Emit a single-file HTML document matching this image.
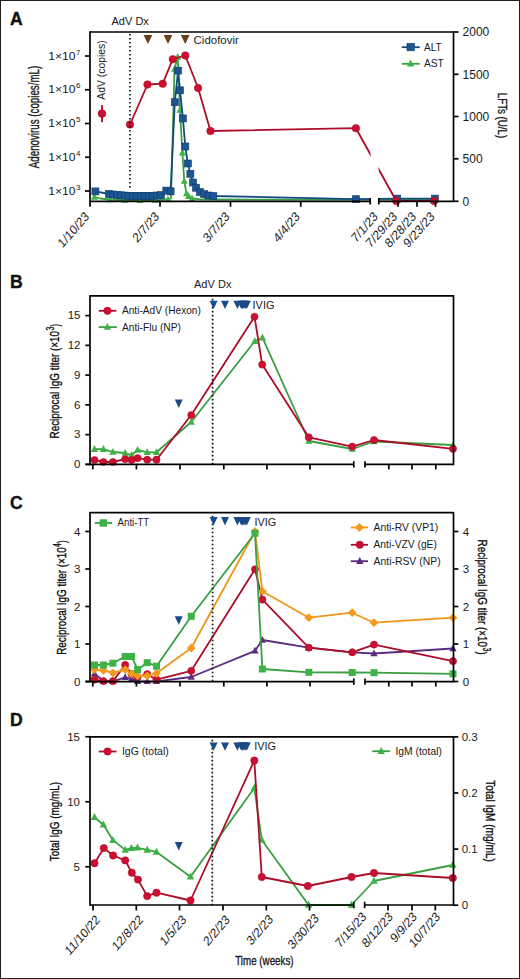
<!DOCTYPE html>
<html><head><meta charset="utf-8"><style>
html,body{margin:0;padding:0;background:#fff;overflow:hidden;}
svg{display:block;}
text{font-family:"Liberation Sans", sans-serif;}
</style></head><body>
<svg width="520" height="979" viewBox="0 0 520 979" font-family='"Liberation Sans", sans-serif'>
<rect x="0" y="0" width="520" height="979" fill="#fff"/>
<text x="9.9" y="24.6" font-size="17.6" text-anchor="start" font-weight="bold" fill="#111" stroke="#111" stroke-width="0.35">A</text>
<text x="9.9" y="288" font-size="17.6" text-anchor="start" font-weight="bold" fill="#111" stroke="#111" stroke-width="0.35">B</text>
<text x="9.9" y="508.5" font-size="17.6" text-anchor="start" font-weight="bold" fill="#111" stroke="#111" stroke-width="0.35">C</text>
<text x="9.9" y="725.8" font-size="17.6" text-anchor="start" font-weight="bold" fill="#111" stroke="#111" stroke-width="0.35">D</text>
<polyline points="94.5,197 100,198.5 110,199.5 120,200 130,200.3 140,200.3 150,200.2 160,200 168,199.5 171,198.5 174.5,69 177.7,57 180,110 182.4,152.8 184.3,181.2 186.5,193.7 188.7,196.3 192,198.5 200,199.3 216,199.5 355.9,199.6 397.2,199.6 435,199.6" fill="none" stroke="#3a9e42" stroke-width="1.8" stroke-linejoin="round"/>
<polygon points="94.5,193.01 98.0,199.66 91.0,199.66" fill="#3db246"/>
<polygon points="110,195.51 113.5,202.16 106.5,202.16" fill="#3db246"/>
<polygon points="125,196.01 128.5,202.66 121.5,202.66" fill="#3db246"/>
<polygon points="140,196.31 143.5,202.96 136.5,202.96" fill="#3db246"/>
<polygon points="155,196.01 158.5,202.66 151.5,202.66" fill="#3db246"/>
<polygon points="168,195.51 171.5,202.16 164.5,202.16" fill="#3db246"/>
<polygon points="174.5,65.01 178.0,71.66 171.0,71.66" fill="#3db246"/>
<polygon points="177.7,53.01 181.2,59.66 174.2,59.66" fill="#3db246"/>
<polygon points="180,106.01 183.5,112.66 176.5,112.66" fill="#3db246"/>
<polygon points="182.4,148.81 185.9,155.46 178.9,155.46" fill="#3db246"/>
<polygon points="184.3,177.20999999999998 187.8,183.85999999999999 180.8,183.85999999999999" fill="#3db246"/>
<polygon points="186.5,189.70999999999998 190.0,196.35999999999999 183.0,196.35999999999999" fill="#3db246"/>
<polygon points="188.7,192.31 192.2,198.96 185.2,198.96" fill="#3db246"/>
<polygon points="192,194.51 195.5,201.16 188.5,201.16" fill="#3db246"/>
<polygon points="355.9,195.60999999999999 359.4,202.26 352.4,202.26" fill="#3db246"/>
<polygon points="397.2,195.60999999999999 400.7,202.26 393.7,202.26" fill="#3db246"/>
<polygon points="435,195.60999999999999 438.5,202.26 431.5,202.26" fill="#3db246"/>
<polyline points="95.4,191.4 109,194 113,194.5 117,195 121,195.3 125,195.6 129,195.8 133,196 137,196 141,196 145,196 149,196 153,195.8 157,195.5 161,195.2 166.3,190.6 170.6,191.4 174.8,102.2 178.1,70.6 180,90.3 182.9,118.4 185.3,146.5 187.8,163.5 190.4,173.8 193,182.5 196,187.7 199.9,192 204.2,194.2 208.5,195.5 213.3,196 355.9,199.2 397.2,198.6 435,198.6" fill="none" stroke="#174a80" stroke-width="1.8" stroke-linejoin="round"/>
<rect x="91.9" y="187.9" width="7" height="7" fill="#1c5591" stroke="#0f3a6a" stroke-width="0.6"/>
<rect x="105.5" y="190.5" width="7" height="7" fill="#1c5591" stroke="#0f3a6a" stroke-width="0.6"/>
<rect x="109.5" y="191.0" width="7" height="7" fill="#1c5591" stroke="#0f3a6a" stroke-width="0.6"/>
<rect x="113.5" y="191.5" width="7" height="7" fill="#1c5591" stroke="#0f3a6a" stroke-width="0.6"/>
<rect x="117.5" y="191.8" width="7" height="7" fill="#1c5591" stroke="#0f3a6a" stroke-width="0.6"/>
<rect x="121.5" y="192.1" width="7" height="7" fill="#1c5591" stroke="#0f3a6a" stroke-width="0.6"/>
<rect x="125.5" y="192.3" width="7" height="7" fill="#1c5591" stroke="#0f3a6a" stroke-width="0.6"/>
<rect x="129.5" y="192.5" width="7" height="7" fill="#1c5591" stroke="#0f3a6a" stroke-width="0.6"/>
<rect x="133.5" y="192.5" width="7" height="7" fill="#1c5591" stroke="#0f3a6a" stroke-width="0.6"/>
<rect x="137.5" y="192.5" width="7" height="7" fill="#1c5591" stroke="#0f3a6a" stroke-width="0.6"/>
<rect x="141.5" y="192.5" width="7" height="7" fill="#1c5591" stroke="#0f3a6a" stroke-width="0.6"/>
<rect x="145.5" y="192.5" width="7" height="7" fill="#1c5591" stroke="#0f3a6a" stroke-width="0.6"/>
<rect x="149.5" y="192.3" width="7" height="7" fill="#1c5591" stroke="#0f3a6a" stroke-width="0.6"/>
<rect x="153.5" y="192.0" width="7" height="7" fill="#1c5591" stroke="#0f3a6a" stroke-width="0.6"/>
<rect x="157.5" y="191.7" width="7" height="7" fill="#1c5591" stroke="#0f3a6a" stroke-width="0.6"/>
<rect x="162.8" y="187.1" width="7" height="7" fill="#1c5591" stroke="#0f3a6a" stroke-width="0.6"/>
<rect x="167.1" y="187.9" width="7" height="7" fill="#1c5591" stroke="#0f3a6a" stroke-width="0.6"/>
<rect x="171.3" y="98.7" width="7" height="7" fill="#1c5591" stroke="#0f3a6a" stroke-width="0.6"/>
<rect x="174.6" y="67.1" width="7" height="7" fill="#1c5591" stroke="#0f3a6a" stroke-width="0.6"/>
<rect x="176.5" y="86.8" width="7" height="7" fill="#1c5591" stroke="#0f3a6a" stroke-width="0.6"/>
<rect x="179.4" y="114.9" width="7" height="7" fill="#1c5591" stroke="#0f3a6a" stroke-width="0.6"/>
<rect x="181.8" y="143.0" width="7" height="7" fill="#1c5591" stroke="#0f3a6a" stroke-width="0.6"/>
<rect x="184.3" y="160.0" width="7" height="7" fill="#1c5591" stroke="#0f3a6a" stroke-width="0.6"/>
<rect x="186.9" y="170.3" width="7" height="7" fill="#1c5591" stroke="#0f3a6a" stroke-width="0.6"/>
<rect x="189.5" y="179.0" width="7" height="7" fill="#1c5591" stroke="#0f3a6a" stroke-width="0.6"/>
<rect x="192.5" y="184.2" width="7" height="7" fill="#1c5591" stroke="#0f3a6a" stroke-width="0.6"/>
<rect x="196.4" y="188.5" width="7" height="7" fill="#1c5591" stroke="#0f3a6a" stroke-width="0.6"/>
<rect x="200.7" y="190.7" width="7" height="7" fill="#1c5591" stroke="#0f3a6a" stroke-width="0.6"/>
<rect x="205.0" y="192.0" width="7" height="7" fill="#1c5591" stroke="#0f3a6a" stroke-width="0.6"/>
<rect x="209.8" y="192.5" width="7" height="7" fill="#1c5591" stroke="#0f3a6a" stroke-width="0.6"/>
<rect x="352.4" y="195.7" width="7" height="7" fill="#1c5591" stroke="#0f3a6a" stroke-width="0.6"/>
<rect x="393.7" y="195.1" width="7" height="7" fill="#1c5591" stroke="#0f3a6a" stroke-width="0.6"/>
<rect x="431.5" y="195.1" width="7" height="7" fill="#1c5591" stroke="#0f3a6a" stroke-width="0.6"/>
<polyline points="130,124.5 147.5,84.5 162.7,83.7 172.8,59.2 185.3,55.5 198.1,88 210.5,131 355.9,128.2 396.3,201 434,201" fill="none" stroke="#ad0d28" stroke-width="1.8" stroke-linejoin="round"/>
<circle cx="130" cy="124.5" r="3.8" fill="#cc0f2e" stroke="#a80c27" stroke-width="0.5"/>
<circle cx="147.5" cy="84.5" r="3.8" fill="#cc0f2e" stroke="#a80c27" stroke-width="0.5"/>
<circle cx="162.7" cy="83.7" r="3.8" fill="#cc0f2e" stroke="#a80c27" stroke-width="0.5"/>
<circle cx="172.8" cy="59.2" r="3.8" fill="#cc0f2e" stroke="#a80c27" stroke-width="0.5"/>
<circle cx="185.3" cy="55.5" r="3.8" fill="#cc0f2e" stroke="#a80c27" stroke-width="0.5"/>
<circle cx="198.1" cy="88" r="3.8" fill="#cc0f2e" stroke="#a80c27" stroke-width="0.5"/>
<circle cx="210.5" cy="131" r="3.8" fill="#cc0f2e" stroke="#a80c27" stroke-width="0.5"/>
<circle cx="355.9" cy="128.2" r="3.8" fill="#cc0f2e" stroke="#a80c27" stroke-width="0.5"/>
<circle cx="396.3" cy="201" r="3.8" fill="#cc0f2e" stroke="#a80c27" stroke-width="0.5"/>
<circle cx="434" cy="201" r="3.8" fill="#cc0f2e" stroke="#a80c27" stroke-width="0.5"/>
<rect x="370.6" y="34" width="8" height="175.3" fill="#fff"/>
<line x1="130" y1="34" x2="130" y2="190" stroke="#111" stroke-width="1.7" stroke-dasharray="1.6 2.4"/>
<line x1="90" y1="32" x2="453.5" y2="32" stroke="#000" stroke-width="1.7" />
<line x1="90" y1="31.25" x2="90" y2="202.05" stroke="#000" stroke-width="1.7" />
<line x1="453.5" y1="31.25" x2="453.5" y2="202.05" stroke="#000" stroke-width="1.7" />
<line x1="90" y1="201.3" x2="370.2" y2="201.3" stroke="#000" stroke-width="1.7" />
<line x1="378.8" y1="201.3" x2="453.5" y2="201.3" stroke="#000" stroke-width="1.7" />
<line x1="90" y1="201.3" x2="90" y2="206.8" stroke="#000" stroke-width="1.7" />
<line x1="160" y1="201.3" x2="160" y2="206.8" stroke="#000" stroke-width="1.7" />
<line x1="230.5" y1="201.3" x2="230.5" y2="206.8" stroke="#000" stroke-width="1.7" />
<line x1="300.75" y1="201.3" x2="300.75" y2="206.8" stroke="#000" stroke-width="1.7" />
<line x1="398" y1="201.3" x2="398" y2="206.8" stroke="#000" stroke-width="1.7" />
<line x1="417" y1="201.3" x2="417" y2="206.8" stroke="#000" stroke-width="1.7" />
<line x1="435.5" y1="201.3" x2="435.5" y2="206.8" stroke="#000" stroke-width="1.7" />
<line x1="370.2" y1="198.10000000000002" x2="370.2" y2="204.5" stroke="#000" stroke-width="1.7" />
<line x1="378.8" y1="198.10000000000002" x2="378.8" y2="204.5" stroke="#000" stroke-width="1.7" />
<line x1="85" y1="191" x2="90" y2="191" stroke="#000" stroke-width="1.7" />
<text x="75.4" y="194.6" font-size="11.2" text-anchor="end" font-weight="normal" fill="#1a1a1a" textLength="27.2" lengthAdjust="spacingAndGlyphs" >1×10</text>
<text x="75.9" y="189.7" font-size="8" text-anchor="start" font-weight="normal" fill="#1a1a1a" >3</text>
<line x1="85" y1="157.25" x2="90" y2="157.25" stroke="#000" stroke-width="1.7" />
<text x="75.4" y="160.85" font-size="11.2" text-anchor="end" font-weight="normal" fill="#1a1a1a" textLength="27.2" lengthAdjust="spacingAndGlyphs" >1×10</text>
<text x="75.9" y="155.95" font-size="8" text-anchor="start" font-weight="normal" fill="#1a1a1a" >4</text>
<line x1="85" y1="123.5" x2="90" y2="123.5" stroke="#000" stroke-width="1.7" />
<text x="75.4" y="127.1" font-size="11.2" text-anchor="end" font-weight="normal" fill="#1a1a1a" textLength="27.2" lengthAdjust="spacingAndGlyphs" >1×10</text>
<text x="75.9" y="122.2" font-size="8" text-anchor="start" font-weight="normal" fill="#1a1a1a" >5</text>
<line x1="85" y1="89.75" x2="90" y2="89.75" stroke="#000" stroke-width="1.7" />
<text x="75.4" y="93.35" font-size="11.2" text-anchor="end" font-weight="normal" fill="#1a1a1a" textLength="27.2" lengthAdjust="spacingAndGlyphs" >1×10</text>
<text x="75.9" y="88.45" font-size="8" text-anchor="start" font-weight="normal" fill="#1a1a1a" >6</text>
<line x1="85" y1="56" x2="90" y2="56" stroke="#000" stroke-width="1.7" />
<text x="75.4" y="59.6" font-size="11.2" text-anchor="end" font-weight="normal" fill="#1a1a1a" textLength="27.2" lengthAdjust="spacingAndGlyphs" >1×10</text>
<text x="75.9" y="54.7" font-size="8" text-anchor="start" font-weight="normal" fill="#1a1a1a" >7</text>
<line x1="453.5" y1="201.3" x2="458.5" y2="201.3" stroke="#000" stroke-width="1.7" />
<text x="462.6" y="205.60000000000002" font-size="12" text-anchor="start" font-weight="normal" fill="#1a1a1a" >0</text>
<line x1="453.5" y1="158.8" x2="458.5" y2="158.8" stroke="#000" stroke-width="1.7" />
<text x="462.6" y="163.10000000000002" font-size="12" text-anchor="start" font-weight="normal" fill="#1a1a1a" >500</text>
<line x1="453.5" y1="116.5" x2="458.5" y2="116.5" stroke="#000" stroke-width="1.7" />
<text x="462.6" y="120.8" font-size="12" text-anchor="start" font-weight="normal" fill="#1a1a1a" >1000</text>
<line x1="453.5" y1="74.3" x2="458.5" y2="74.3" stroke="#000" stroke-width="1.7" />
<text x="462.6" y="78.6" font-size="12" text-anchor="start" font-weight="normal" fill="#1a1a1a" >1500</text>
<line x1="453.5" y1="32" x2="458.5" y2="32" stroke="#000" stroke-width="1.7" />
<text x="462.6" y="36.3" font-size="12" text-anchor="start" font-weight="normal" fill="#1a1a1a" >2000</text>
<text transform="translate(497.8,115.5) rotate(90)" font-size="13" text-anchor="middle" font-weight="normal" fill="#1a1a1a" textLength="45.5" lengthAdjust="spacingAndGlyphs" stroke="#1a1a1a" stroke-width="0.35">LFTs (U/L)</text>
<text transform="translate(39.2,117) rotate(-90)" font-size="14" text-anchor="middle" font-weight="normal" fill="#1a1a1a" textLength="102.4" lengthAdjust="spacingAndGlyphs" stroke="#1a1a1a" stroke-width="0.35">Adenovirus (copies/mL)</text>
<text transform="translate(89.7,217.3) scale(0.87,1) rotate(-45)" font-size="13.2" text-anchor="end" font-weight="normal" fill="#1a1a1a" >1/10/23</text>
<text transform="translate(159.7,217.3) scale(0.87,1) rotate(-45)" font-size="13.2" text-anchor="end" font-weight="normal" fill="#1a1a1a" >2/7/23</text>
<text transform="translate(230.2,217.3) scale(0.87,1) rotate(-45)" font-size="13.2" text-anchor="end" font-weight="normal" fill="#1a1a1a" >3/7/23</text>
<text transform="translate(300.45,217.3) scale(0.87,1) rotate(-45)" font-size="13.2" text-anchor="end" font-weight="normal" fill="#1a1a1a" >4/4/23</text>
<text transform="translate(378.5,217.3) scale(0.87,1) rotate(-45)" font-size="13.2" text-anchor="end" font-weight="normal" fill="#1a1a1a" >7/1/23</text>
<text transform="translate(397.7,217.3) scale(0.87,1) rotate(-45)" font-size="13.2" text-anchor="end" font-weight="normal" fill="#1a1a1a" >7/29/23</text>
<text transform="translate(416.7,217.3) scale(0.87,1) rotate(-45)" font-size="13.2" text-anchor="end" font-weight="normal" fill="#1a1a1a" >8/28/23</text>
<text transform="translate(435.2,217.3) scale(0.87,1) rotate(-45)" font-size="13.2" text-anchor="end" font-weight="normal" fill="#1a1a1a" >9/23/23</text>
<line x1="102" y1="104.9" x2="102" y2="122.3" stroke="#ad0d28" stroke-width="1.8" />
<circle cx="102" cy="113.6" r="3.9" fill="#cc0f2e" stroke="#a80c27" stroke-width="0.5"/>
<text transform="translate(105.3,70) rotate(-90)" font-size="10.5" text-anchor="middle" font-weight="normal" fill="#1a1a1a" textLength="59.3" lengthAdjust="spacingAndGlyphs" >AdV (copies)</text>
<line x1="401.7" y1="47.2" x2="419.7" y2="47.2" stroke="#174a80" stroke-width="1.8" />
<rect x="407.0" y="43.4" width="7.4" height="7.4" fill="#1c5591" stroke="#0f3a6a" stroke-width="0.6"/>
<line x1="401.7" y1="63.8" x2="419.7" y2="63.8" stroke="#3a9e42" stroke-width="1.8" />
<polygon points="410.6,59.581999999999994 414.3,66.612 406.90000000000003,66.612" fill="#3db246"/>
<text x="424" y="50.7" font-size="10.8" text-anchor="start" font-weight="normal" fill="#1a1a1a" textLength="17.6" lengthAdjust="spacingAndGlyphs" >ALT</text>
<text x="424" y="67.1" font-size="10.8" text-anchor="start" font-weight="normal" fill="#1a1a1a" textLength="19.8" lengthAdjust="spacingAndGlyphs" >AST</text>
<text x="111.5" y="24.6" font-size="11.5" text-anchor="start" font-weight="normal" fill="#1a1a1a" textLength="37.4" lengthAdjust="spacingAndGlyphs" >AdV Dx</text>
<polygon points="143.5,34.9 152.3,34.9 147.9,44.1" fill="#66401a"/>
<polygon points="163.6,34.9 172.4,34.9 168,44.1" fill="#66401a"/>
<polygon points="180.79999999999998,34.9 189.6,34.9 185.2,44.1" fill="#66401a"/>
<text x="193.6" y="43.8" font-size="11" text-anchor="start" font-weight="normal" fill="#1a1a1a" textLength="45.2" lengthAdjust="spacingAndGlyphs" >Cidofovir</text>
<polyline points="94.5,449.2 103.4,449.2 112.9,452 125.2,453 131.6,455 137.6,450 147.2,452.3 156.5,452.3 191.25,422 254.8,341.3 262.4,337.7 308.8,441 352.2,449 374,441.5 453,445" fill="none" stroke="#3a9e42" stroke-width="1.8" stroke-linejoin="round"/>
<polygon points="94.5,445.096 98.1,451.936 90.9,451.936" fill="#3db246"/>
<polygon points="103.4,445.096 107.0,451.936 99.80000000000001,451.936" fill="#3db246"/>
<polygon points="112.9,447.896 116.5,454.736 109.30000000000001,454.736" fill="#3db246"/>
<polygon points="125.2,448.896 128.8,455.736 121.60000000000001,455.736" fill="#3db246"/>
<polygon points="131.6,450.896 135.2,457.736 128.0,457.736" fill="#3db246"/>
<polygon points="137.6,445.896 141.2,452.736 134.0,452.736" fill="#3db246"/>
<polygon points="147.2,448.196 150.79999999999998,455.036 143.6,455.036" fill="#3db246"/>
<polygon points="156.5,448.196 160.1,455.036 152.9,455.036" fill="#3db246"/>
<polygon points="191.25,417.896 194.85,424.736 187.65,424.736" fill="#3db246"/>
<polygon points="254.8,337.196 258.40000000000003,344.036 251.20000000000002,344.036" fill="#3db246"/>
<polygon points="262.4,333.596 266.0,340.436 258.79999999999995,340.436" fill="#3db246"/>
<polygon points="308.8,436.896 312.40000000000003,443.736 305.2,443.736" fill="#3db246"/>
<polygon points="352.2,444.896 355.8,451.736 348.59999999999997,451.736" fill="#3db246"/>
<polygon points="374,437.396 377.6,444.236 370.4,444.236" fill="#3db246"/>
<polygon points="453,440.896 456.6,447.736 449.4,447.736" fill="#3db246"/>
<polyline points="94.5,460 103.4,462 112.9,462 125.2,459.2 131.6,460 137.6,458.2 147.2,459.7 156.5,459.7 191.25,415 254.5,316.75 262.2,364.6 308.8,437.3 352.2,446.7 374,440 453,448.8" fill="none" stroke="#ad0d28" stroke-width="1.8" stroke-linejoin="round"/>
<circle cx="94.5" cy="460" r="3.6" fill="#cc0f2e" stroke="#a80c27" stroke-width="0.5"/>
<circle cx="103.4" cy="462" r="3.6" fill="#cc0f2e" stroke="#a80c27" stroke-width="0.5"/>
<circle cx="112.9" cy="462" r="3.6" fill="#cc0f2e" stroke="#a80c27" stroke-width="0.5"/>
<circle cx="125.2" cy="459.2" r="3.6" fill="#cc0f2e" stroke="#a80c27" stroke-width="0.5"/>
<circle cx="131.6" cy="460" r="3.6" fill="#cc0f2e" stroke="#a80c27" stroke-width="0.5"/>
<circle cx="137.6" cy="458.2" r="3.6" fill="#cc0f2e" stroke="#a80c27" stroke-width="0.5"/>
<circle cx="147.2" cy="459.7" r="3.6" fill="#cc0f2e" stroke="#a80c27" stroke-width="0.5"/>
<circle cx="156.5" cy="459.7" r="3.6" fill="#cc0f2e" stroke="#a80c27" stroke-width="0.5"/>
<circle cx="191.25" cy="415" r="3.6" fill="#cc0f2e" stroke="#a80c27" stroke-width="0.5"/>
<circle cx="254.5" cy="316.75" r="3.6" fill="#cc0f2e" stroke="#a80c27" stroke-width="0.5"/>
<circle cx="262.2" cy="364.6" r="3.6" fill="#cc0f2e" stroke="#a80c27" stroke-width="0.5"/>
<circle cx="308.8" cy="437.3" r="3.6" fill="#cc0f2e" stroke="#a80c27" stroke-width="0.5"/>
<circle cx="352.2" cy="446.7" r="3.6" fill="#cc0f2e" stroke="#a80c27" stroke-width="0.5"/>
<circle cx="374" cy="440" r="3.6" fill="#cc0f2e" stroke="#a80c27" stroke-width="0.5"/>
<circle cx="453" cy="448.8" r="3.6" fill="#cc0f2e" stroke="#a80c27" stroke-width="0.5"/>
<line x1="212.6" y1="298.8" x2="212.6" y2="464.4" stroke="#111" stroke-width="1.7" stroke-dasharray="1.6 2.4"/>
<line x1="90" y1="295.8" x2="453.5" y2="295.8" stroke="#000" stroke-width="1.7" />
<line x1="90" y1="295.05" x2="90" y2="465.15" stroke="#000" stroke-width="1.7" />
<line x1="453.5" y1="295.05" x2="453.5" y2="465.15" stroke="#000" stroke-width="1.7" />
<line x1="85.5" y1="464.4" x2="353.8" y2="464.4" stroke="#000" stroke-width="1.7" />
<line x1="365" y1="464.4" x2="453.5" y2="464.4" stroke="#000" stroke-width="1.7" />
<line x1="92.8" y1="464.4" x2="92.8" y2="469.4" stroke="#000" stroke-width="1.7" />
<line x1="136.4" y1="464.4" x2="136.4" y2="469.4" stroke="#000" stroke-width="1.7" />
<line x1="180" y1="464.4" x2="180" y2="469.4" stroke="#000" stroke-width="1.7" />
<line x1="223.8" y1="464.4" x2="223.8" y2="469.4" stroke="#000" stroke-width="1.7" />
<line x1="266.9" y1="464.4" x2="266.9" y2="469.4" stroke="#000" stroke-width="1.7" />
<line x1="310" y1="464.4" x2="310" y2="469.4" stroke="#000" stroke-width="1.7" />
<line x1="388.8" y1="464.4" x2="388.8" y2="469.4" stroke="#000" stroke-width="1.7" />
<line x1="412" y1="464.4" x2="412" y2="469.4" stroke="#000" stroke-width="1.7" />
<line x1="435.8" y1="464.4" x2="435.8" y2="469.4" stroke="#000" stroke-width="1.7" />
<line x1="353.8" y1="461.2" x2="353.8" y2="467.59999999999997" stroke="#000" stroke-width="1.7" />
<line x1="365" y1="461.2" x2="365" y2="467.59999999999997" stroke="#000" stroke-width="1.7" />
<line x1="85.3" y1="464.4" x2="90" y2="464.4" stroke="#000" stroke-width="1.7" />
<line x1="85.3" y1="434.64" x2="90" y2="434.64" stroke="#000" stroke-width="1.7" />
<line x1="85.3" y1="404.88" x2="90" y2="404.88" stroke="#000" stroke-width="1.7" />
<line x1="85.3" y1="375.12" x2="90" y2="375.12" stroke="#000" stroke-width="1.7" />
<line x1="85.3" y1="345.36" x2="90" y2="345.36" stroke="#000" stroke-width="1.7" />
<line x1="85.3" y1="315.59999999999997" x2="90" y2="315.59999999999997" stroke="#000" stroke-width="1.7" />
<text x="80.5" y="468.09999999999997" font-size="11.5" text-anchor="end" font-weight="normal" fill="#1a1a1a" >0</text>
<text x="80.5" y="438.34" font-size="11.5" text-anchor="end" font-weight="normal" fill="#1a1a1a" >3</text>
<text x="80.5" y="408.58" font-size="11.5" text-anchor="end" font-weight="normal" fill="#1a1a1a" >6</text>
<text x="80.5" y="378.82" font-size="11.5" text-anchor="end" font-weight="normal" fill="#1a1a1a" >9</text>
<text x="80.5" y="349.06" font-size="11.5" text-anchor="end" font-weight="normal" fill="#1a1a1a" >12</text>
<text x="80.5" y="319.29999999999995" font-size="11.5" text-anchor="end" font-weight="normal" fill="#1a1a1a" >15</text>
<g transform="translate(59,438.5) rotate(-90)" stroke="#1a1a1a" stroke-width="0.35">
<text x="0" y="0" font-size="13.4" textLength="107.6" lengthAdjust="spacingAndGlyphs">Reciprocal IgG titer (×10</text>
<text x="107.89999999999999" y="-5" font-size="10" textLength="3.8" lengthAdjust="spacingAndGlyphs">3</text>
<text x="111.89999999999999" y="0" font-size="13.4" textLength="2.6" lengthAdjust="spacingAndGlyphs">)</text>
</g>
<polygon points="209.6,300.7 217.6,300.7 213.6,309.09999999999997" fill="#1b4b86"/>
<polygon points="221.0,300.7 229.0,300.7 225,309.09999999999997" fill="#1b4b86"/>
<polygon points="233.4,300.7 241.4,300.7 237.4,309.09999999999997" fill="#1b4b86"/>
<polygon points="237.2,300.7 245.2,300.7 241.2,309.09999999999997" fill="#1b4b86"/>
<polygon points="238.5,300.7 246.5,300.7 242.5,309.09999999999997" fill="#1b4b86"/>
<polygon points="239.8,300.7 247.8,300.7 243.8,309.09999999999997" fill="#1b4b86"/>
<polygon points="241.2,300.7 249.2,300.7 245.2,309.09999999999997" fill="#1b4b86"/>
<polygon points="242.8,300.7 250.8,300.7 246.8,309.09999999999997" fill="#1b4b86"/>
<text x="252.6" y="308.5" font-size="10.8" text-anchor="start" font-weight="normal" fill="#1a1a1a" textLength="21.8" lengthAdjust="spacingAndGlyphs" >IVIG</text>
<polygon points="174.75,399.6 182.75,399.6 178.75,408.0" fill="#1b4b86"/>
<text x="194" y="287.6" font-size="11.2" text-anchor="start" font-weight="normal" fill="#1a1a1a" textLength="37.4" lengthAdjust="spacingAndGlyphs" >AdV Dx</text>
<line x1="98.8" y1="310.8" x2="116.3" y2="310.8" stroke="#ad0d28" stroke-width="1.8" />
<circle cx="107.5" cy="310.8" r="3.7" fill="#cc0f2e" stroke="#a80c27" stroke-width="0.5"/>
<text x="121.9" y="314.3" font-size="11.3" text-anchor="start" font-weight="normal" fill="#1a1a1a" textLength="79" lengthAdjust="spacingAndGlyphs" >Anti-AdV (Hexon)</text>
<line x1="98.7" y1="327.1" x2="116.9" y2="327.1" stroke="#3a9e42" stroke-width="1.8" />
<polygon points="107.4,322.99600000000004 111.0,329.836 103.80000000000001,329.836" fill="#3db246"/>
<text x="122" y="331.2" font-size="11.3" text-anchor="start" font-weight="normal" fill="#1a1a1a" textLength="58.9" lengthAdjust="spacingAndGlyphs" >Anti-Flu (NP)</text>
<polyline points="94.5,673.5 103.4,681.3 112.9,681.3 125.2,677.3 131.6,678.8 137.6,681.2 147.2,681.3 156.5,681.3 191.25,677 255,650.8 262.4,640 308.8,647.7 352.2,652.3 374,653.5 453,648.5" fill="none" stroke="#5a2d82" stroke-width="1.8" stroke-linejoin="round"/>
<polygon points="94.5,669.396 98.1,676.236 90.9,676.236" fill="#5a2d82"/>
<polygon points="103.4,677.1959999999999 107.0,684.036 99.80000000000001,684.036" fill="#5a2d82"/>
<polygon points="112.9,677.1959999999999 116.5,684.036 109.30000000000001,684.036" fill="#5a2d82"/>
<polygon points="125.2,673.1959999999999 128.8,680.036 121.60000000000001,680.036" fill="#5a2d82"/>
<polygon points="131.6,674.6959999999999 135.2,681.536 128.0,681.536" fill="#5a2d82"/>
<polygon points="137.6,677.096 141.2,683.936 134.0,683.936" fill="#5a2d82"/>
<polygon points="147.2,677.1959999999999 150.79999999999998,684.036 143.6,684.036" fill="#5a2d82"/>
<polygon points="156.5,677.1959999999999 160.1,684.036 152.9,684.036" fill="#5a2d82"/>
<polygon points="191.25,672.896 194.85,679.736 187.65,679.736" fill="#5a2d82"/>
<polygon points="255,646.6959999999999 258.6,653.536 251.4,653.536" fill="#5a2d82"/>
<polygon points="262.4,635.896 266.0,642.736 258.79999999999995,642.736" fill="#5a2d82"/>
<polygon points="308.8,643.596 312.40000000000003,650.436 305.2,650.436" fill="#5a2d82"/>
<polygon points="352.2,648.1959999999999 355.8,655.036 348.59999999999997,655.036" fill="#5a2d82"/>
<polygon points="374,649.396 377.6,656.236 370.4,656.236" fill="#5a2d82"/>
<polygon points="453,644.396 456.6,651.236 449.4,651.236" fill="#5a2d82"/>
<polyline points="94.5,679.6 103.4,681.2 112.9,681.2 125.2,664.9 131.6,674 137.6,677 147.2,674.2 156.5,679.6 191.25,670.8 255,569.3 262.4,599.6 308.8,647.7 352.2,652.3 374,644.6 453,661.2" fill="none" stroke="#ad0d28" stroke-width="1.8" stroke-linejoin="round"/>
<circle cx="94.5" cy="679.6" r="3.6" fill="#cc0f2e" stroke="#a80c27" stroke-width="0.5"/>
<circle cx="103.4" cy="681.2" r="3.6" fill="#cc0f2e" stroke="#a80c27" stroke-width="0.5"/>
<circle cx="112.9" cy="681.2" r="3.6" fill="#cc0f2e" stroke="#a80c27" stroke-width="0.5"/>
<circle cx="125.2" cy="664.9" r="3.6" fill="#cc0f2e" stroke="#a80c27" stroke-width="0.5"/>
<circle cx="131.6" cy="674" r="3.6" fill="#cc0f2e" stroke="#a80c27" stroke-width="0.5"/>
<circle cx="137.6" cy="677" r="3.6" fill="#cc0f2e" stroke="#a80c27" stroke-width="0.5"/>
<circle cx="147.2" cy="674.2" r="3.6" fill="#cc0f2e" stroke="#a80c27" stroke-width="0.5"/>
<circle cx="156.5" cy="679.6" r="3.6" fill="#cc0f2e" stroke="#a80c27" stroke-width="0.5"/>
<circle cx="191.25" cy="670.8" r="3.6" fill="#cc0f2e" stroke="#a80c27" stroke-width="0.5"/>
<circle cx="255" cy="569.3" r="3.6" fill="#cc0f2e" stroke="#a80c27" stroke-width="0.5"/>
<circle cx="262.4" cy="599.6" r="3.6" fill="#cc0f2e" stroke="#a80c27" stroke-width="0.5"/>
<circle cx="308.8" cy="647.7" r="3.6" fill="#cc0f2e" stroke="#a80c27" stroke-width="0.5"/>
<circle cx="352.2" cy="652.3" r="3.6" fill="#cc0f2e" stroke="#a80c27" stroke-width="0.5"/>
<circle cx="374" cy="644.6" r="3.6" fill="#cc0f2e" stroke="#a80c27" stroke-width="0.5"/>
<circle cx="453" cy="661.2" r="3.6" fill="#cc0f2e" stroke="#a80c27" stroke-width="0.5"/>
<polyline points="94.5,669.5 103.4,670.4 112.9,672.9 125.2,669.6 131.6,673.8 137.6,675.8 147.2,675.8 156.5,673.3 191.25,648 255,531.5 262.4,591.2 308.8,617.7 352.2,612.7 374,622.7 453,617.7" fill="none" stroke="#f0961a" stroke-width="1.8" stroke-linejoin="round"/>
<polygon points="94.5,665.1 98.9,669.5 94.5,673.9 90.1,669.5" fill="#f49a1c"/>
<polygon points="103.4,666.0 107.80000000000001,670.4 103.4,674.8 99.0,670.4" fill="#f49a1c"/>
<polygon points="112.9,668.5 117.30000000000001,672.9 112.9,677.3 108.5,672.9" fill="#f49a1c"/>
<polygon points="125.2,665.2 129.6,669.6 125.2,674.0 120.8,669.6" fill="#f49a1c"/>
<polygon points="131.6,669.4 136.0,673.8 131.6,678.1999999999999 127.19999999999999,673.8" fill="#f49a1c"/>
<polygon points="137.6,671.4 142.0,675.8 137.6,680.1999999999999 133.2,675.8" fill="#f49a1c"/>
<polygon points="147.2,671.4 151.6,675.8 147.2,680.1999999999999 142.79999999999998,675.8" fill="#f49a1c"/>
<polygon points="156.5,668.9 160.9,673.3 156.5,677.6999999999999 152.1,673.3" fill="#f49a1c"/>
<polygon points="191.25,643.6 195.65,648 191.25,652.4 186.85,648" fill="#f49a1c"/>
<polygon points="255,527.1 259.4,531.5 255,535.9 250.6,531.5" fill="#f49a1c"/>
<polygon points="262.4,586.8000000000001 266.79999999999995,591.2 262.4,595.6 258.0,591.2" fill="#f49a1c"/>
<polygon points="308.8,613.3000000000001 313.2,617.7 308.8,622.1 304.40000000000003,617.7" fill="#f49a1c"/>
<polygon points="352.2,608.3000000000001 356.59999999999997,612.7 352.2,617.1 347.8,612.7" fill="#f49a1c"/>
<polygon points="374,618.3000000000001 378.4,622.7 374,627.1 369.6,622.7" fill="#f49a1c"/>
<polygon points="453,613.3000000000001 457.4,617.7 453,622.1 448.6,617.7" fill="#f49a1c"/>
<polyline points="94.5,665 103.4,665 112.9,663.2 125.2,656.5 131.6,656.5 137.6,669.6 147.2,662.7 156.5,666.2 191.25,616.3 255,533.3 262.4,669 308.8,672.3 352.2,672.5 374,672.7 453,673.8" fill="none" stroke="#3a9e42" stroke-width="1.8" stroke-linejoin="round"/>
<rect x="91.0" y="661.5" width="7" height="7" fill="#3db246"/>
<rect x="99.9" y="661.5" width="7" height="7" fill="#3db246"/>
<rect x="109.4" y="659.7" width="7" height="7" fill="#3db246"/>
<rect x="121.7" y="653.0" width="7" height="7" fill="#3db246"/>
<rect x="128.1" y="653.0" width="7" height="7" fill="#3db246"/>
<rect x="134.1" y="666.1" width="7" height="7" fill="#3db246"/>
<rect x="143.7" y="659.2" width="7" height="7" fill="#3db246"/>
<rect x="153.0" y="662.7" width="7" height="7" fill="#3db246"/>
<rect x="187.75" y="612.8" width="7" height="7" fill="#3db246"/>
<rect x="251.5" y="529.8" width="7" height="7" fill="#3db246"/>
<rect x="258.9" y="665.5" width="7" height="7" fill="#3db246"/>
<rect x="305.3" y="668.8" width="7" height="7" fill="#3db246"/>
<rect x="348.7" y="669.0" width="7" height="7" fill="#3db246"/>
<rect x="370.5" y="669.2" width="7" height="7" fill="#3db246"/>
<rect x="449.5" y="670.3" width="7" height="7" fill="#3db246"/>
<line x1="212.6" y1="515.7" x2="212.6" y2="681.6" stroke="#111" stroke-width="1.7" stroke-dasharray="1.6 2.4"/>
<line x1="90" y1="512.7" x2="453.5" y2="512.7" stroke="#000" stroke-width="1.7" />
<line x1="90" y1="511.95000000000005" x2="90" y2="682.35" stroke="#000" stroke-width="1.7" />
<line x1="453.5" y1="511.95000000000005" x2="453.5" y2="682.35" stroke="#000" stroke-width="1.7" />
<line x1="85.5" y1="681.6" x2="353.8" y2="681.6" stroke="#000" stroke-width="1.7" />
<line x1="365" y1="681.6" x2="453.5" y2="681.6" stroke="#000" stroke-width="1.7" />
<line x1="92.8" y1="681.6" x2="92.8" y2="686.6" stroke="#000" stroke-width="1.7" />
<line x1="136.4" y1="681.6" x2="136.4" y2="686.6" stroke="#000" stroke-width="1.7" />
<line x1="180" y1="681.6" x2="180" y2="686.6" stroke="#000" stroke-width="1.7" />
<line x1="223.8" y1="681.6" x2="223.8" y2="686.6" stroke="#000" stroke-width="1.7" />
<line x1="266.9" y1="681.6" x2="266.9" y2="686.6" stroke="#000" stroke-width="1.7" />
<line x1="310" y1="681.6" x2="310" y2="686.6" stroke="#000" stroke-width="1.7" />
<line x1="388.8" y1="681.6" x2="388.8" y2="686.6" stroke="#000" stroke-width="1.7" />
<line x1="412" y1="681.6" x2="412" y2="686.6" stroke="#000" stroke-width="1.7" />
<line x1="435.8" y1="681.6" x2="435.8" y2="686.6" stroke="#000" stroke-width="1.7" />
<line x1="353.8" y1="678.4" x2="353.8" y2="684.8000000000001" stroke="#000" stroke-width="1.7" />
<line x1="365" y1="678.4" x2="365" y2="684.8000000000001" stroke="#000" stroke-width="1.7" />
<line x1="85.3" y1="681.5" x2="90" y2="681.5" stroke="#000" stroke-width="1.7" />
<line x1="453.5" y1="681.5" x2="458.3" y2="681.5" stroke="#000" stroke-width="1.7" />
<line x1="85.3" y1="644.0" x2="90" y2="644.0" stroke="#000" stroke-width="1.7" />
<line x1="453.5" y1="644.0" x2="458.3" y2="644.0" stroke="#000" stroke-width="1.7" />
<line x1="85.3" y1="606.5" x2="90" y2="606.5" stroke="#000" stroke-width="1.7" />
<line x1="453.5" y1="606.5" x2="458.3" y2="606.5" stroke="#000" stroke-width="1.7" />
<line x1="85.3" y1="569.0" x2="90" y2="569.0" stroke="#000" stroke-width="1.7" />
<line x1="453.5" y1="569.0" x2="458.3" y2="569.0" stroke="#000" stroke-width="1.7" />
<line x1="85.3" y1="531.5" x2="90" y2="531.5" stroke="#000" stroke-width="1.7" />
<line x1="453.5" y1="531.5" x2="458.3" y2="531.5" stroke="#000" stroke-width="1.7" />
<text x="80.3" y="685.5" font-size="11.5" text-anchor="end" font-weight="normal" fill="#1a1a1a" >0</text>
<text x="80.3" y="648.0" font-size="11.5" text-anchor="end" font-weight="normal" fill="#1a1a1a" >1</text>
<text x="80.3" y="610.5" font-size="11.5" text-anchor="end" font-weight="normal" fill="#1a1a1a" >2</text>
<text x="80.3" y="573.0" font-size="11.5" text-anchor="end" font-weight="normal" fill="#1a1a1a" >3</text>
<text x="80.3" y="535.5" font-size="11.5" text-anchor="end" font-weight="normal" fill="#1a1a1a" >4</text>
<text x="462.8" y="685.5" font-size="11.5" text-anchor="start" font-weight="normal" fill="#1a1a1a" >0</text>
<text x="462.8" y="648.0" font-size="11.5" text-anchor="start" font-weight="normal" fill="#1a1a1a" >1</text>
<text x="462.8" y="610.5" font-size="11.5" text-anchor="start" font-weight="normal" fill="#1a1a1a" >2</text>
<text x="462.8" y="573.0" font-size="11.5" text-anchor="start" font-weight="normal" fill="#1a1a1a" >3</text>
<text x="462.8" y="535.5" font-size="11.5" text-anchor="start" font-weight="normal" fill="#1a1a1a" >4</text>
<g transform="translate(65.9,654.8) rotate(-90)" stroke="#1a1a1a" stroke-width="0.35">
<text x="0" y="0" font-size="13.4" textLength="107.6" lengthAdjust="spacingAndGlyphs">Reciprocal IgG titer (×10</text>
<text x="107.89999999999999" y="-5" font-size="10" textLength="3.8" lengthAdjust="spacingAndGlyphs">4</text>
<text x="111.89999999999999" y="0" font-size="13.4" textLength="2.6" lengthAdjust="spacingAndGlyphs">)</text>
</g>
<g transform="translate(478.2,539.6) rotate(90)" stroke="#1a1a1a" stroke-width="0.35">
<text x="0" y="0" font-size="13.4" textLength="107.5" lengthAdjust="spacingAndGlyphs">Reciprocal IgG titer (×10</text>
<text x="107.8" y="-5" font-size="10" textLength="3.8" lengthAdjust="spacingAndGlyphs">3</text>
<text x="111.8" y="0" font-size="13.4" textLength="3.2" lengthAdjust="spacingAndGlyphs">)</text>
</g>
<polygon points="209.6,517.0 217.6,517.0 213.6,525.4000000000001" fill="#1b4b86"/>
<polygon points="221.0,517.0 229.0,517.0 225,525.4000000000001" fill="#1b4b86"/>
<polygon points="233.4,517.0 241.4,517.0 237.4,525.4000000000001" fill="#1b4b86"/>
<polygon points="237.2,517.0 245.2,517.0 241.2,525.4000000000001" fill="#1b4b86"/>
<polygon points="238.5,517.0 246.5,517.0 242.5,525.4000000000001" fill="#1b4b86"/>
<polygon points="239.8,517.0 247.8,517.0 243.8,525.4000000000001" fill="#1b4b86"/>
<polygon points="241.2,517.0 249.2,517.0 245.2,525.4000000000001" fill="#1b4b86"/>
<polygon points="242.8,517.0 250.8,517.0 246.8,525.4000000000001" fill="#1b4b86"/>
<text x="254.5" y="525.5" font-size="10.8" text-anchor="start" font-weight="normal" fill="#1a1a1a" textLength="21.8" lengthAdjust="spacingAndGlyphs" >IVIG</text>
<polygon points="174.75,616.3 182.75,616.3 178.75,624.7" fill="#1b4b86"/>
<line x1="94.7" y1="523" x2="112.2" y2="523" stroke="#3a9e42" stroke-width="1.8" />
<rect x="99.6" y="519.3" width="7.4" height="7.4" fill="#3db246"/>
<text x="117.6" y="526.1" font-size="11.3" text-anchor="start" font-weight="normal" fill="#1a1a1a" textLength="31.6" lengthAdjust="spacingAndGlyphs" >Anti-TT</text>
<line x1="350.8" y1="527.5" x2="368" y2="527.5" stroke="#f0961a" stroke-width="1.8" />
<polygon points="359.4,522.9 364.0,527.5 359.4,532.1 354.79999999999995,527.5" fill="#f49a1c"/>
<text x="373.5" y="531.3" font-size="11.3" text-anchor="start" font-weight="normal" fill="#1a1a1a" textLength="64.8" lengthAdjust="spacingAndGlyphs" >Anti-RV (VP1)</text>
<line x1="350.8" y1="544.8" x2="368" y2="544.8" stroke="#ad0d28" stroke-width="1.8" />
<circle cx="359.8" cy="544.8" r="3.7" fill="#cc0f2e" stroke="#a80c27" stroke-width="0.5"/>
<text x="373.5" y="547.9" font-size="11.3" text-anchor="start" font-weight="normal" fill="#1a1a1a" textLength="63.4" lengthAdjust="spacingAndGlyphs" >Anti-VZV (gE)</text>
<line x1="350.8" y1="561.2" x2="368" y2="561.2" stroke="#5a2d82" stroke-width="1.8" />
<polygon points="359.8,556.9820000000001 363.5,564.0120000000001 356.1,564.0120000000001" fill="#5a2d82"/>
<text x="373.5" y="564.5" font-size="11.3" text-anchor="start" font-weight="normal" fill="#1a1a1a" textLength="67.1" lengthAdjust="spacingAndGlyphs" >Anti-RSV (NP)</text>
<polyline points="94.5,817.3 103.4,824.7 112.9,840.1 125.2,849.9 131.4,848.1 137.5,847.8 147.2,849.9 156.5,851.9 190.5,876.8 254.3,788 261.8,840 308.6,905 351.5,905 374,881 452.8,865" fill="none" stroke="#3a9e42" stroke-width="1.8" stroke-linejoin="round"/>
<polygon points="94.5,813.082 98.2,820.112 90.8,820.112" fill="#3db246"/>
<polygon points="103.4,820.4820000000001 107.10000000000001,827.5120000000001 99.7,827.5120000000001" fill="#3db246"/>
<polygon points="112.9,835.8820000000001 116.60000000000001,842.912 109.2,842.912" fill="#3db246"/>
<polygon points="125.2,845.682 128.9,852.712 121.5,852.712" fill="#3db246"/>
<polygon points="131.4,843.8820000000001 135.1,850.912 127.7,850.912" fill="#3db246"/>
<polygon points="137.5,843.582 141.2,850.612 133.8,850.612" fill="#3db246"/>
<polygon points="147.2,845.682 150.89999999999998,852.712 143.5,852.712" fill="#3db246"/>
<polygon points="156.5,847.682 160.2,854.712 152.8,854.712" fill="#3db246"/>
<polygon points="190.5,872.582 194.2,879.612 186.8,879.612" fill="#3db246"/>
<polygon points="254.3,783.782 258.0,790.812 250.60000000000002,790.812" fill="#3db246"/>
<polygon points="261.8,835.782 265.5,842.812 258.1,842.812" fill="#3db246"/>
<polygon points="308.6,900.782 312.3,907.812 304.90000000000003,907.812" fill="#3db246"/>
<polygon points="351.5,900.782 355.2,907.812 347.8,907.812" fill="#3db246"/>
<polygon points="374,876.782 377.7,883.812 370.3,883.812" fill="#3db246"/>
<polygon points="452.8,860.782 456.5,867.812 449.1,867.812" fill="#3db246"/>
<polyline points="94.5,863.2 103.8,848.1 113.1,855.5 125.2,860.4 131.8,872.7 138,879.6 147.2,896.1 156.5,892.7 190.5,900.5 254.3,760.5 261.8,877 307.8,886 351.5,877 374,873 452.8,878" fill="none" stroke="#ad0d28" stroke-width="1.8" stroke-linejoin="round"/>
<circle cx="94.5" cy="863.2" r="3.7" fill="#cc0f2e" stroke="#a80c27" stroke-width="0.5"/>
<circle cx="103.8" cy="848.1" r="3.7" fill="#cc0f2e" stroke="#a80c27" stroke-width="0.5"/>
<circle cx="113.1" cy="855.5" r="3.7" fill="#cc0f2e" stroke="#a80c27" stroke-width="0.5"/>
<circle cx="125.2" cy="860.4" r="3.7" fill="#cc0f2e" stroke="#a80c27" stroke-width="0.5"/>
<circle cx="131.8" cy="872.7" r="3.7" fill="#cc0f2e" stroke="#a80c27" stroke-width="0.5"/>
<circle cx="138" cy="879.6" r="3.7" fill="#cc0f2e" stroke="#a80c27" stroke-width="0.5"/>
<circle cx="147.2" cy="896.1" r="3.7" fill="#cc0f2e" stroke="#a80c27" stroke-width="0.5"/>
<circle cx="156.5" cy="892.7" r="3.7" fill="#cc0f2e" stroke="#a80c27" stroke-width="0.5"/>
<circle cx="190.5" cy="900.5" r="3.7" fill="#cc0f2e" stroke="#a80c27" stroke-width="0.5"/>
<circle cx="254.3" cy="760.5" r="3.7" fill="#cc0f2e" stroke="#a80c27" stroke-width="0.5"/>
<circle cx="261.8" cy="877" r="3.7" fill="#cc0f2e" stroke="#a80c27" stroke-width="0.5"/>
<circle cx="307.8" cy="886" r="3.7" fill="#cc0f2e" stroke="#a80c27" stroke-width="0.5"/>
<circle cx="351.5" cy="877" r="3.7" fill="#cc0f2e" stroke="#a80c27" stroke-width="0.5"/>
<circle cx="374" cy="873" r="3.7" fill="#cc0f2e" stroke="#a80c27" stroke-width="0.5"/>
<circle cx="452.8" cy="878" r="3.7" fill="#cc0f2e" stroke="#a80c27" stroke-width="0.5"/>
<line x1="212.3" y1="739.8" x2="212.3" y2="905" stroke="#111" stroke-width="1.7" stroke-dasharray="1.6 2.4"/>
<line x1="90" y1="736.8" x2="453.5" y2="736.8" stroke="#000" stroke-width="1.7" />
<line x1="90" y1="736.05" x2="90" y2="905.75" stroke="#000" stroke-width="1.7" />
<line x1="453.5" y1="736.05" x2="453.5" y2="905.75" stroke="#000" stroke-width="1.7" />
<line x1="90" y1="905" x2="353.8" y2="905" stroke="#000" stroke-width="1.7" />
<line x1="364.6" y1="905" x2="453.5" y2="905" stroke="#000" stroke-width="1.7" />
<line x1="93" y1="905" x2="93" y2="910.5" stroke="#000" stroke-width="1.7" />
<line x1="136.3" y1="905" x2="136.3" y2="910.5" stroke="#000" stroke-width="1.7" />
<line x1="179.5" y1="905" x2="179.5" y2="910.5" stroke="#000" stroke-width="1.7" />
<line x1="223" y1="905" x2="223" y2="910.5" stroke="#000" stroke-width="1.7" />
<line x1="266.3" y1="905" x2="266.3" y2="910.5" stroke="#000" stroke-width="1.7" />
<line x1="309.5" y1="905" x2="309.5" y2="910.5" stroke="#000" stroke-width="1.7" />
<line x1="388" y1="905" x2="388" y2="910.5" stroke="#000" stroke-width="1.7" />
<line x1="412" y1="905" x2="412" y2="910.5" stroke="#000" stroke-width="1.7" />
<line x1="435.3" y1="905" x2="435.3" y2="910.5" stroke="#000" stroke-width="1.7" />
<line x1="353.8" y1="901.8" x2="353.8" y2="908.2" stroke="#000" stroke-width="1.7" />
<line x1="364.6" y1="901.8" x2="364.6" y2="908.2" stroke="#000" stroke-width="1.7" />
<line x1="85.3" y1="866.75" x2="90" y2="866.75" stroke="#000" stroke-width="1.7" />
<line x1="85.3" y1="801.75" x2="90" y2="801.75" stroke="#000" stroke-width="1.7" />
<line x1="85.3" y1="736.75" x2="90" y2="736.75" stroke="#000" stroke-width="1.7" />
<text x="80" y="870.75" font-size="11.5" text-anchor="end" font-weight="normal" fill="#1a1a1a" >5</text>
<text x="80" y="805.75" font-size="11.5" text-anchor="end" font-weight="normal" fill="#1a1a1a" >10</text>
<text x="80" y="740.75" font-size="11.5" text-anchor="end" font-weight="normal" fill="#1a1a1a" >15</text>
<line x1="453.5" y1="905.2" x2="458.3" y2="905.2" stroke="#000" stroke-width="1.7" />
<text x="461.7" y="909.2" font-size="11.5" text-anchor="start" font-weight="normal" fill="#1a1a1a" >0</text>
<line x1="453.5" y1="849.1" x2="458.3" y2="849.1" stroke="#000" stroke-width="1.7" />
<text x="461.7" y="853.1" font-size="11.5" text-anchor="start" font-weight="normal" fill="#1a1a1a" >0.1</text>
<line x1="453.5" y1="793.0" x2="458.3" y2="793.0" stroke="#000" stroke-width="1.7" />
<text x="461.7" y="797.0" font-size="11.5" text-anchor="start" font-weight="normal" fill="#1a1a1a" >0.2</text>
<line x1="453.5" y1="736.9000000000001" x2="458.3" y2="736.9000000000001" stroke="#000" stroke-width="1.7" />
<text x="461.7" y="740.9000000000001" font-size="11.5" text-anchor="start" font-weight="normal" fill="#1a1a1a" >0.3</text>
<g transform="translate(58.7,861.2) rotate(-90)" stroke="#1a1a1a" stroke-width="0.35">
<text x="0" y="0" font-size="13.4" textLength="79.2" lengthAdjust="spacingAndGlyphs">Total IgG (mg/mL)</text>
</g>
<g transform="translate(485.5,780.3) rotate(90)" stroke="#1a1a1a" stroke-width="0.35">
<text x="0" y="0" font-size="13.4" textLength="81.6" lengthAdjust="spacingAndGlyphs">Total IgM (mg/mL)</text>
</g>
<polygon points="209.6,742.4 217.6,742.4 213.6,750.8000000000001" fill="#1b4b86"/>
<polygon points="221.0,742.4 229.0,742.4 225,750.8000000000001" fill="#1b4b86"/>
<polygon points="233.4,742.4 241.4,742.4 237.4,750.8000000000001" fill="#1b4b86"/>
<polygon points="237.2,742.4 245.2,742.4 241.2,750.8000000000001" fill="#1b4b86"/>
<polygon points="238.5,742.4 246.5,742.4 242.5,750.8000000000001" fill="#1b4b86"/>
<polygon points="239.8,742.4 247.8,742.4 243.8,750.8000000000001" fill="#1b4b86"/>
<polygon points="241.2,742.4 249.2,742.4 245.2,750.8000000000001" fill="#1b4b86"/>
<polygon points="242.8,742.4 250.8,742.4 246.8,750.8000000000001" fill="#1b4b86"/>
<text x="254.2" y="750.2" font-size="10.8" text-anchor="start" font-weight="normal" fill="#1a1a1a" textLength="21.8" lengthAdjust="spacingAndGlyphs" >IVIG</text>
<polygon points="174.75,842.0999999999999 182.75,842.0999999999999 178.75,850.5" fill="#1b4b86"/>
<line x1="98.8" y1="751.5" x2="116.5" y2="751.5" stroke="#ad0d28" stroke-width="1.8" />
<circle cx="107.6" cy="751.5" r="3.7" fill="#cc0f2e" stroke="#a80c27" stroke-width="0.5"/>
<text x="121.9" y="755.4" font-size="11.3" text-anchor="start" font-weight="normal" fill="#1a1a1a" textLength="46.9" lengthAdjust="spacingAndGlyphs" >IgG (total)</text>
<line x1="372.3" y1="751.2" x2="390" y2="751.2" stroke="#3a9e42" stroke-width="1.8" />
<polygon points="381.2,746.9820000000001 384.9,754.0120000000001 377.5,754.0120000000001" fill="#3db246"/>
<text x="395.4" y="755.4" font-size="11.3" text-anchor="start" font-weight="normal" fill="#1a1a1a" textLength="46.6" lengthAdjust="spacingAndGlyphs" >IgM (total)</text>
<text transform="translate(100.5,920.5) scale(0.87,1) rotate(-45)" font-size="13.2" text-anchor="end" font-weight="normal" fill="#1a1a1a" >11/10/22</text>
<text transform="translate(143.8,920.5) scale(0.87,1) rotate(-45)" font-size="13.2" text-anchor="end" font-weight="normal" fill="#1a1a1a" >12/8/22</text>
<text transform="translate(187.0,920.5) scale(0.87,1) rotate(-45)" font-size="13.2" text-anchor="end" font-weight="normal" fill="#1a1a1a" >1/5/23</text>
<text transform="translate(230.5,920.5) scale(0.87,1) rotate(-45)" font-size="13.2" text-anchor="end" font-weight="normal" fill="#1a1a1a" >2/2/23</text>
<text transform="translate(273.8,920) scale(0.87,1) rotate(-45)" font-size="13.2" text-anchor="end" font-weight="normal" fill="#1a1a1a" >3/2/23</text>
<text transform="translate(319.5,919) scale(0.87,1) rotate(-45)" font-size="13.2" text-anchor="end" font-weight="normal" fill="#1a1a1a" >3/30/23</text>
<text transform="translate(367.1,917.5) scale(0.87,1) rotate(-45)" font-size="13.2" text-anchor="end" font-weight="normal" fill="#1a1a1a" >7/15/23</text>
<text transform="translate(393.5,917.5) scale(0.87,1) rotate(-45)" font-size="13.2" text-anchor="end" font-weight="normal" fill="#1a1a1a" >8/12/23</text>
<text transform="translate(417.5,917.5) scale(0.87,1) rotate(-45)" font-size="13.2" text-anchor="end" font-weight="normal" fill="#1a1a1a" >9/9/23</text>
<text transform="translate(440.8,917.5) scale(0.87,1) rotate(-45)" font-size="13.2" text-anchor="end" font-weight="normal" fill="#1a1a1a" >10/7/23</text>
<text x="235.2" y="965.4" font-size="12.6" text-anchor="start" font-weight="normal" fill="#1a1a1a" textLength="58.4" lengthAdjust="spacingAndGlyphs" stroke="#1a1a1a" stroke-width="0.35">Time (weeks)</text>
<rect x="0.5" y="0.5" width="519" height="978" fill="none" stroke="#1e1e1e" stroke-width="1"/>
</svg>
</body></html>
